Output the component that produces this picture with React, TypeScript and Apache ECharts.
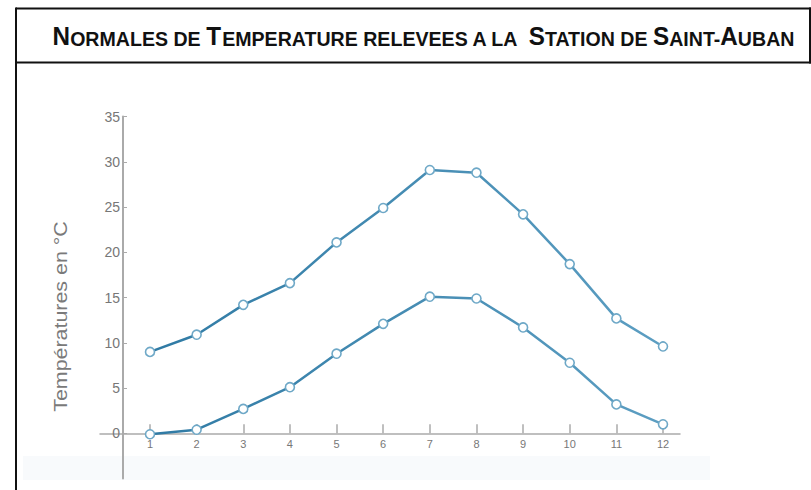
import React, { useEffect, useRef } from "react";
import * as echarts from "echarts";

const months = [1, 2, 3, 4, 5, 6, 7, 8, 9, 10, 11, 12];
const tMax = [9.0, 10.9, 14.2, 16.6, 21.1, 24.9, 29.1, 28.8, 24.2, 18.7, 12.7, 9.6];
const tMin = [-0.1, 0.4, 2.7, 5.1, 8.8, 12.1, 15.1, 14.9, 11.7, 7.8, 3.2, 1.0];
const yTicks = [0, 5, 10, 15, 20, 25, 30, 35];
const yAxisTitle = "Températures en °C";
const titleParts = [
  ["b", "N"],
  ["s", "ORMALES DE "],
  ["b", "T"],
  ["s", "EMPERATURE RELEVEES A LA  "],
  ["b", "S"],
  ["s", "TATION DE "],
  ["b", "S"],
  ["s", "AINT-"],
  ["b", "A"],
  ["s", "UBAN"],
];

const lineGradient = () =>
  new echarts.graphic.LinearGradient(0, 0, 1, 0, [
    { offset: 0, color: "#2f7aa4" },
    { offset: 1, color: "#5c9ec2" },
  ]);

const UNIT = 513 / 11;
const X_MIN = 1 - 50 / UNIT;
const X_MAX = 12 + 17 / UNIT;
const PX_PER_DEG = 9.05;
const TOP = 116.6;

export default function App() {
  const ref = useRef<HTMLDivElement>(null);
  useEffect(() => {
    if (!ref.current) return;
    const chart = echarts.init(ref.current, null, { renderer: "svg" });
    const mkSeries = (name: string, vals: number[]) => ({
      name,
      type: "line",
      xAxisIndex: 0,
      yAxisIndex: 0,
      data: months.map((m, i) => [m, vals[i]]),
      symbol: "circle",
      symbolSize: 9,
      clip: false,
      lineStyle: { width: 2.5, color: lineGradient() },
      itemStyle: { color: "#ffffff", borderColor: "#6ea8c7", borderWidth: 1.6 },
      z: 5,
    });
    const font = "Liberation Sans";
    chart.setOption({
      animation: false,
      backgroundColor: "#ffffff",
      grid: [
        { left: 100, top: TOP, width: 580, height: 35 * PX_PER_DEG, outerBoundsMode: "none", containLabel: false },
        { left: 100, top: TOP + 35 * PX_PER_DEG, width: 580, height: 5 * PX_PER_DEG, outerBoundsMode: "none", containLabel: false },
      ],
      xAxis: [
        {
          gridIndex: 0,
          type: "value",
          min: X_MIN,
          max: X_MAX,
          axisLine: { onZero: false, lineStyle: { color: "#aaaaaa", width: 1.5 } },
          axisTick: {
            show: true,
            inside: true,
            length: 9,
            customValues: months,
            lineStyle: { color: "#aaaaaa", width: 1.5 },
          },
          axisLabel: {
            customValues: months,
            margin: 5,
            fontSize: 11,
            color: "#777777",
            fontFamily: font,
          },
          splitLine: { show: false },
        },
        {
          gridIndex: 1,
          type: "value",
          min: X_MIN,
          max: X_MAX,
          show: false,
        },
      ],
      yAxis: [
        {
          gridIndex: 0,
          type: "value",
          min: 0,
          max: 35,
          interval: 5,
          offset: -23,
          axisLine: { show: true, lineStyle: { color: "#aaaaaa", width: 2 } },
          axisTick: {
            show: true,
            inside: true,
            length: 4,
            customValues: yTicks,
            lineStyle: { color: "#aaaaaa", width: 1 },
          },
          axisLabel: {
            customValues: yTicks,
            margin: 3,
            fontSize: 14,
            color: "#777777",
            fontFamily: font,
          },
          splitLine: { show: false },
        },
        {
          gridIndex: 1,
          type: "value",
          min: -5,
          max: 0,
          offset: -23,
          axisLine: { show: true, lineStyle: { color: "#aaaaaa", width: 2 } },
          axisTick: { show: false },
          axisLabel: { show: false },
          splitLine: { show: false },
        },
      ],
      series: [mkSeries("max", tMax), mkSeries("min", tMin)],
      graphic: [
        {
          type: "rect",
          z: -10,
          shape: { x: 23, y: 456, width: 687, height: 24 },
          style: { fill: "#f8fafc" },
          silent: true,
        },
        {
          type: "text",
          x: 61,
          y: 316.5,
          rotation: Math.PI / 2,
          scaleX: 1.19,
          style: {
            text: yAxisTitle,
            fontSize: 18,
            fill: "#7a7a7a",
            fontFamily: font,
            align: "center",
            verticalAlign: "middle",
          },
        },
        {
          type: "text",
          x: 423.5,
          y: 36,
          scaleX: 0.933,
          style: {
            text: titleParts.map(([k, t]) => `{${k}|${t}}`).join(""),
            align: "center",
            verticalAlign: "middle",
            fill: "#111111",
            rich: {
              b: {
                fontSize: 26,
                fontWeight: "bold",
                fontFamily: font,
                fill: "#111111",
                verticalAlign: "bottom",
                lineHeight: 26,
              },
              s: {
                fontSize: 21,
                fontWeight: "bold",
                fontFamily: font,
                fill: "#111111",
                verticalAlign: "bottom",
                lineHeight: 26,
              },
            },
          },
        },
        { type: "line", shape: { x1: 16, y1: 8.5, x2: 811, y2: 8.5 }, style: { stroke: "#111", lineWidth: 2 } },
        { type: "line", shape: { x1: 16, y1: 62.5, x2: 811, y2: 62.5 }, style: { stroke: "#111", lineWidth: 2 } },
        { type: "line", shape: { x1: 16, y1: 7.5, x2: 16, y2: 490 }, style: { stroke: "#111", lineWidth: 2 } },
        { type: "line", shape: { x1: 810, y1: 7.5, x2: 810, y2: 63.5 }, style: { stroke: "#111", lineWidth: 2 } },
      ],
    });
    return () => chart.dispose();
  }, []);
  return (
    <div
      ref={ref}
      style={{ position: "absolute", left: 0, top: 0, width: 811, height: 490 }}
    />
  );
}
